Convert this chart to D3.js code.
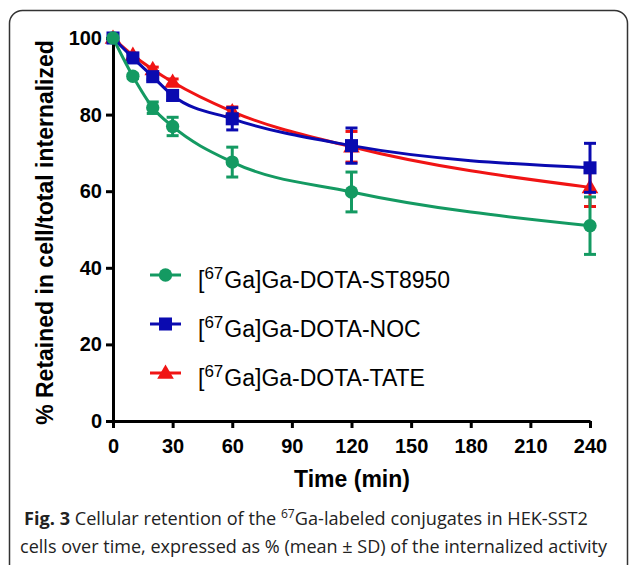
<!DOCTYPE html>
<html>
<head>
<meta charset="utf-8">
<script src="https://cdn.jsdelivr.net/npm/d3@7"></script>
<style>
  body { margin: 0; background: #fff; }
  svg { display: block; }
</style>
</head>
<body>
<div id="chart"></div>
<script>
// Data
const times = [0, 10, 20, 30, 60, 120, 240];
const st8950 = [100, 90.0, 81.8, 76.9, 67.6, 59.8, 51.0];
const st8950Sd = [0, 0.6, 1.5, 2.4, 3.9, 5.2, 7.5];
const noc = [100, 94.8, 89.9, 85.0, 78.9, 71.9, 66.1];
const nocSd = [0, 0.8, 0.8, 1.2, 2.9, 4.6, 6.4];
const tate = [100, 95.5, 91.8, 88.5, 80.8, 71.6, 61.0];
const tateSd = [0, 0.5, 0.6, 0.8, 1.2, 4.0, 5.0];
const seriesNames = ["ST8950", "NOC", "TATE"];
const xTicks = [0, 30, 60, 90, 120, 150, 180, 210, 240];
const yTicks = [0, 20, 40, 60, 80, 100];

const width = 630, height = 565;

const svg = d3.select("#chart")
    .append("svg")
    .attr("width", width)
    .attr("height", height);

// Rounded frame around the figure
svg.append("rect")
    .attr("x", 9.5).attr("y", 10.5)
    .attr("width", 618).attr("height", 570)
    .attr("rx", 13)
    .attr("fill", "none")
    .attr("stroke", "#333")
    .attr("stroke-width", 1.5);

const x = d3.scaleLinear().domain([0, 240]).range([113, 590]);
const y = d3.scaleLinear().domain([0, 100]).range([421, 38]);

// series (drawn red first so green ends on top)
const series = [
    { name: seriesNames[2], vals: tate, sd: tateSd, color: "#f01414", symbol: d3.symbolTriangle, size: 120 },
    { name: seriesNames[1], vals: noc, sd: nocSd, color: "#0a0ab0", symbol: d3.symbolSquare, size: 170 },
    { name: seriesNames[0], vals: st8950, sd: st8950Sd, color: "#149a62", symbol: d3.symbolCircle, size: 140 }
];

// Axes
const yAxis = svg.append("g")
    .attr("transform", `translate(${x(0)},0)`)
    .call(d3.axisLeft(y).tickValues(yTicks).tickSize(7).tickSizeOuter(0).tickPadding(4));
const xAxis = svg.append("g")
    .attr("transform", `translate(0,${y(0)})`)
    .call(d3.axisBottom(x).tickValues(xTicks).tickSize(7).tickSizeOuter(0).tickPadding(11));

[xAxis, yAxis].forEach(ax => {
    ax.selectAll("path, line").attr("stroke", "#000").attr("stroke-width", 3);
    ax.selectAll("text")
        .attr("fill", "#000")
        .style("font-family", "'Liberation Sans', Arial, sans-serif")
        .style("font-weight", "bold")
        .style("font-size", "20px");
});

// Axis titles
svg.append("text")
    .attr("transform", `translate(53, ${(y(0) + y(100)) / 2 + 3}) rotate(-90)`)
    .attr("text-anchor", "middle")
    .style("font-family", "'Liberation Sans', Arial, sans-serif")
    .style("font-weight", "bold")
    .style("font-size", "23px")
    .text("% Retained in cell/total internalized");

svg.append("text")
    .attr("x", 352).attr("y", 487)
    .attr("text-anchor", "middle")
    .style("font-family", "'Liberation Sans', Arial, sans-serif")
    .style("font-weight", "bold")
    .style("font-size", "23px")
    .text("Time (min)");

// Curves, error bars, markers
const line = d3.line()
    .x(d => x(d.t))
    .y(d => y(d.v))
    .curve(d3.curveMonotoneX);

series.forEach(s => {
    const pts = times.map((t, i) => ({ t: t, v: s.vals[i], sd: s.sd[i] }));
    const g = svg.append("g");

    g.append("path")
        .datum(pts)
        .attr("fill", "none")
        .attr("stroke", s.color)
        .attr("stroke-width", 3)
        .attr("d", line);

    const eb = g.selectAll(".err")
        .data(pts.filter(d => d.sd > 0))
        .enter().append("g");
    eb.append("line")
        .attr("x1", d => x(d.t)).attr("x2", d => x(d.t))
        .attr("y1", d => y(d.v + d.sd)).attr("y2", d => y(d.v - d.sd))
        .attr("stroke", s.color).attr("stroke-width", 3);
    [1, -1].forEach(sign => {
        eb.append("line")
            .attr("x1", d => x(d.t) - 6).attr("x2", d => x(d.t) + 6)
            .attr("y1", d => y(d.v + sign * d.sd)).attr("y2", d => y(d.v + sign * d.sd))
            .attr("stroke", s.color).attr("stroke-width", 3);
    });

    g.selectAll(".mark")
        .data(pts)
        .enter().append("path")
        .attr("transform", d => `translate(${x(d.t)},${y(d.v) + (s.symbol === d3.symbolTriangle ? 1 : 0)})`)
        .attr("d", d3.symbol().type(s.symbol).size(s.size))
        .attr("fill", s.color);
});

// Legend
const legendRows = [series[2], series[1], series[0]];
const legend = svg.selectAll(".legend")
    .data(legendRows)
    .enter().append("g")
    .attr("transform", (d, i) => `translate(0, ${275 + i * 49})`);

legend.append("line")
    .attr("x1", 150).attr("x2", 181)
    .attr("stroke", d => d.color)
    .attr("stroke-width", 3);
legend.append("path")
    .attr("transform", d => `translate(165.5, ${d.symbol === d3.symbolTriangle ? 1 : 0})`)
    .attr("d", d => d3.symbol().type(d.symbol).size(d.size)())
    .attr("fill", d => d.color);

const lt = legend.append("text")
    .attr("x", 198).attr("y", 13)
    .style("font-family", "'Liberation Sans', Arial, sans-serif")
    .style("font-size", "23px")
    .attr("fill", "#000");
lt.append("tspan").text("[");
lt.append("tspan").attr("dy", -9).style("font-size", "17px").text("67");
lt.append("tspan").attr("dy", 9).attr("dx", 1).text(d => "Ga]Ga-DOTA-" + d.name);

// Caption
const cap1 = svg.append("text")
    .attr("x", 24).attr("y", 525)
    .attr("textLength", 564).attr("lengthAdjust", "spacingAndGlyphs")
    .style("font-family", "'Open Sans', sans-serif")
    .style("font-size", "18px")
    .attr("fill", "#222");
cap1.append("tspan").style("font-weight", "bold").text("Fig. 3");
cap1.append("tspan").text(" Cellular retention of the ");
cap1.append("tspan").attr("dy", -7).style("font-size", "12px").text("67");
cap1.append("tspan").attr("dy", 7).text("Ga-labeled conjugates in HEK-SST2");

svg.append("text")
    .attr("x", 20).attr("y", 553)
    .attr("textLength", 587).attr("lengthAdjust", "spacingAndGlyphs")
    .style("font-family", "'Open Sans', sans-serif")
    .style("font-size", "18px")
    .attr("fill", "#222")
    .text("cells over time, expressed as % (mean \u00b1 SD) of the internalized activity");
</script>
</body>
</html>
